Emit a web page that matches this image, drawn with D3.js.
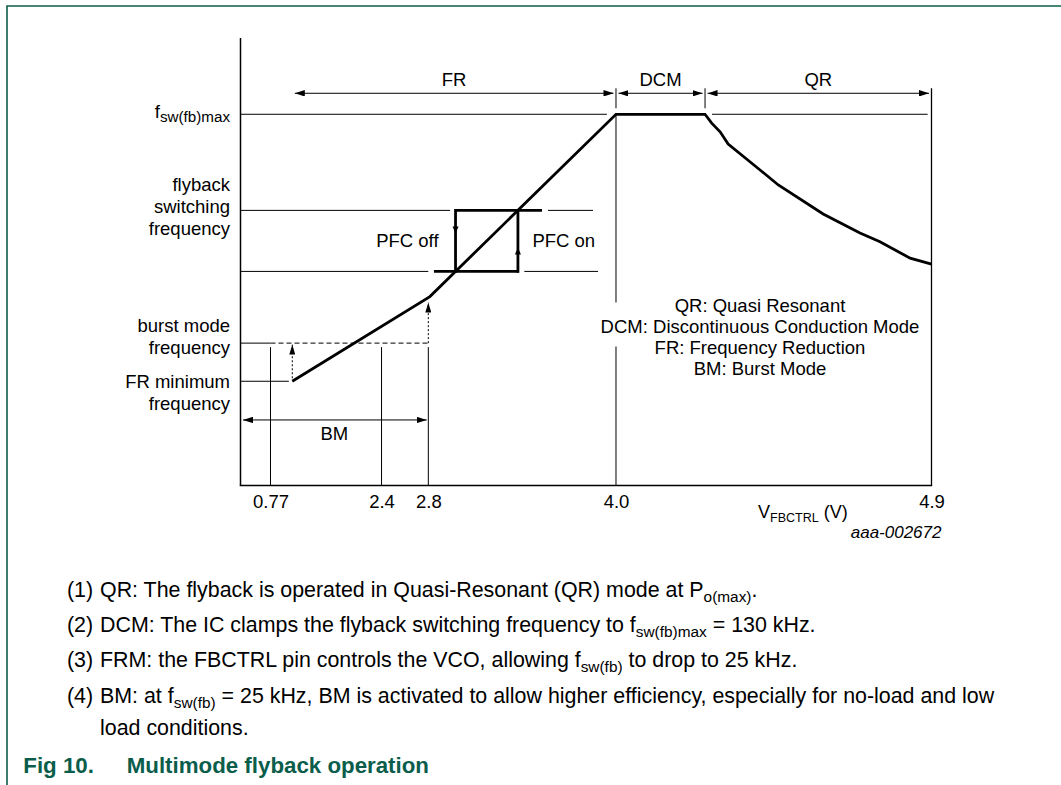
<!DOCTYPE html>
<html>
<head>
<meta charset="utf-8">
<script src="https://cdn.jsdelivr.net/npm/d3@7"></script>
<style>
  html, body { margin: 0; padding: 0; background: #fff; }
  svg { display: block; font-family: "Liberation Sans", Arial, Helvetica, sans-serif; }
</style>
</head>
<body>
<svg id="chart" width="1061" height="785"></svg>
<script>
// ---------- data ----------
// control voltage ticks (V)
const tickValues = [0.77, 2.4, 2.8, 4.0, 4.9];
const tickLabels = ["0.77", "2.4", "2.8", "4.0", "4.9"];

// operating curve: V_FBCTRL (V) against flyback switching frequency (kHz)
const curveV = [1.09, 2.81, 4.0, 4.254, 4.273, 4.297, 4.320, 4.411, 4.463, 4.591, 4.696, 4.753, 4.839, 4.9];
const curveF = [25, 58.3, 130, 130, 126.5, 123.1, 118.3, 108.1, 102.2, 90.8, 83.3, 79.9, 73.4, 71.1];

// characteristic frequency levels (kHz)
const fMax = 130;
const fPfcHigh = 92.2;
const fPfcLow = 68.2;
const fBurst = 40;
const fMin = 25;

// PFC hysteresis window (V)
const pfcOffV = 2.974;
const pfcOnV = 3.373;
const pfcTopEndV = 3.527;
const pfcBottomStartV = 2.836;

// thin reference lines: level, start, end (V)
const guideLevel = [fMax, fMax, fPfcHigh, fPfcHigh, fPfcLow, fPfcLow, fMin, fBurst];
const guideFrom  = [0, 4.274, 0, 3.565, 0, 3.414, 0, 0];
const guideTo    = [3.942, 4.889, 2.939, 3.853, 2.8, 3.885, 1.04, 0.77];

// operating modes along the control voltage
const modeNames = ["FR", "DCM", "QR"];
const modeStart = [1.09, 4.0, 4.254];
const modeEnd   = [4.0, 4.254, 4.9];

// frequency labels on the vertical axis
const yLabelLevel = [fMax, fPfcHigh, fBurst, fMin];
const yLabelLines = [["f|sw(fb)max"], ["flyback", "switching", "frequency"], ["burst mode", "frequency"], ["FR minimum", "frequency"]];

const legendLines = ["QR: Quasi Resonant", "DCM: Discontinuous Conduction Mode", "FR: Frequency Reduction", "BM: Burst Mode"];

const noteNums = ["(1)", "(2)", "(3)", "(4)"];
const noteParts = [
  [["QR: The flyback is operated in Quasi-Resonant (QR) mode at P", 0], ["o(max)", 1], [".", 0]],
  [["DCM: The IC clamps the flyback switching frequency to f", 0], ["sw(fb)max", 1], [" = 130 kHz.", 0]],
  [["FRM: the FBCTRL pin controls the VCO, allowing f", 0], ["sw(fb)", 1], [" to drop to 25 kHz.", 0]],
  [["BM: at f", 0], ["sw(fb)", 1], [" = 25 kHz, BM is activated to allow higher efficiency, especially for no-load and low", 0]]
];
const noteContinuation = "load conditions.";
const figNumber = "Fig 10.";
const figTitle = "Multimode flyback operation";
const figCode = "aaa-002672";

// ---------- layout ----------
const svg = d3.select("#chart");
const green = "#0b5d4b";
const fs = 18.5, subFs = 15.2, subShift = 4.5;
const noteFs = 21.4, noteSubFs = 15.4, noteSubShift = 5;
const plot = { left: 240.5, right: 931.5, top: 38, bottom: 485.5 };
const pw = plot.right - plot.left;

// schematic (non-uniform) voltage axis
const x = d3.scaleLinear()
  .domain([0, 0.77, 2.4, 2.8, 4.0, 4.9])
  .range([0, 0.0434, 0.2041, 0.2718, 0.5434, 1].map(f => plot.left + f * pw));
const y = d3.scaleLinear().domain([-16, 160]).range([plot.bottom, plot.top]);

// page frame
svg.append("path")
  .attr("d", `M7,785V6H1061`)
  .attr("fill", "none").attr("stroke", green).attr("stroke-width", 1.6);

// arrow markers
const defs = svg.append("defs");
function marker(id, len, half) {
  defs.append("marker").attr("id", id)
    .attr("markerUnits", "userSpaceOnUse")
    .attr("markerWidth", len).attr("markerHeight", half * 2)
    .attr("refX", len).attr("refY", half)
    .attr("orient", "auto-start-reverse")
    .append("path").attr("d", `M0,0L${len},${half}L0,${half * 2}Z`).attr("fill", "#000");
}
marker("dimArrow", 10, 3.2);
marker("dotArrow", 10, 3);

const g = svg.append("g");

// thin reference lines
guideLevel.forEach((lv, i) => {
  g.append("line")
    .attr("x1", x(guideFrom[i])).attr("x2", x(guideTo[i]))
    .attr("y1", y(lv)).attr("y2", y(lv))
    .attr("stroke", "#000").attr("stroke-width", 1);
});
// dashed burst-mode threshold
g.append("line")
  .attr("x1", x(0.77)).attr("x2", x(2.8))
  .attr("y1", y(fBurst)).attr("y2", y(fBurst))
  .attr("stroke", "#000").attr("stroke-width", 1).attr("stroke-dasharray", "5,3");

// vertical drop lines at the voltage ticks
[0.77, 2.4, 2.8].forEach(v => {
  g.append("line").attr("x1", x(v)).attr("x2", x(v))
    .attr("y1", y(fBurst) + 4).attr("y2", plot.bottom)
    .attr("stroke", "#000").attr("stroke-width", 1);
});
g.append("line").attr("x1", x(4.0)).attr("x2", x(4.0))
  .attr("y1", y(fMax)).attr("y2", plot.bottom)
  .attr("stroke", "#000").attr("stroke-width", 1);

// mode dimension arrows
const yDim = y(fMax) - 21;
modeNames.forEach((m, i) => {
  const a = x(modeStart[i]) + 2.5, b = x(modeEnd[i]) - 2.5;
  g.append("line").attr("x1", a).attr("x2", b).attr("y1", yDim).attr("y2", yDim)
    .attr("stroke", "#000").attr("stroke-width", 1)
    .attr("marker-start", "url(#dimArrow)").attr("marker-end", "url(#dimArrow)");
  g.append("text").attr("x", (a + b) / 2).attr("y", yDim - 7.5)
    .attr("text-anchor", "middle").attr("font-size", fs).text(m);
});
[4.0, 4.254].forEach(v => {
  g.append("line").attr("x1", x(v)).attr("x2", x(v))
    .attr("y1", yDim - 5).attr("y2", yDim + 15)
    .attr("stroke", "#000").attr("stroke-width", 1);
});
// right boundary at 4.9 V
g.append("line").attr("x1", x(4.9)).attr("x2", x(4.9))
  .attr("y1", yDim - 5).attr("y2", plot.bottom)
  .attr("stroke", "#000").attr("stroke-width", 1.3);

// burst mode span
const yBM = y(fMin) + 38.7;
g.append("line").attr("x1", x(0) + 2.5).attr("x2", x(2.8) - 1.6)
  .attr("y1", yBM).attr("y2", yBM)
  .attr("stroke", "#000").attr("stroke-width", 1)
  .attr("marker-start", "url(#dimArrow)").attr("marker-end", "url(#dimArrow)");
g.append("text").attr("x", (x(0) + x(2.8)) / 2).attr("y", yBM + 20)
  .attr("text-anchor", "middle").attr("font-size", fs).text("BM");

// dotted arrows: step up from minimum to burst level, and from burst level to the curve
g.append("line").attr("x1", x(curveV[0])).attr("x2", x(curveV[0]))
  .attr("y1", y(fMin) - 3).attr("y2", y(fBurst) + 1.5)
  .attr("stroke", "#000").attr("stroke-width", 1).attr("stroke-dasharray", "2,2")
  .attr("marker-end", "url(#dotArrow)");
g.append("line").attr("x1", x(2.8)).attr("x2", x(2.8))
  .attr("y1", y(fBurst)).attr("y2", y(curveF[1]) + 6)
  .attr("stroke", "#000").attr("stroke-width", 1).attr("stroke-dasharray", "2,2")
  .attr("marker-end", "url(#dotArrow)");

// PFC hysteresis box
const thick = 2.8;
const box = g.append("g").attr("stroke", "#000").attr("stroke-width", thick).attr("fill", "none");
box.append("line").attr("x1", x(pfcOffV)).attr("x2", x(pfcTopEndV)).attr("y1", y(fPfcHigh)).attr("y2", y(fPfcHigh));
box.append("line").attr("x1", x(pfcBottomStartV)).attr("x2", x(pfcOnV)).attr("y1", y(fPfcLow)).attr("y2", y(fPfcLow));
box.append("line").attr("x1", x(pfcOffV)).attr("x2", x(pfcOffV)).attr("y1", y(fPfcHigh)).attr("y2", y(fPfcLow)).attr("stroke-linecap", "square");
box.append("line").attr("x1", x(pfcOnV)).attr("x2", x(pfcOnV)).attr("y1", y(fPfcHigh)).attr("y2", y(fPfcLow)).attr("stroke-linecap", "square");
const boxMid = (y(fPfcHigh) + y(fPfcLow)) / 2;
// direction heads
g.append("path").attr("fill", "#000")
  .attr("d", `M${x(pfcOffV) - 3},${boxMid - 14.5}L${x(pfcOffV) + 3},${boxMid - 14.5}L${x(pfcOffV)},${boxMid - 7.5}Z`);
g.append("path").attr("fill", "#000")
  .attr("d", `M${x(pfcOnV) - 3},${boxMid + 13.5}L${x(pfcOnV) + 3},${boxMid + 13.5}L${x(pfcOnV)},${boxMid + 6.5}Z`);
g.append("text").attr("x", x(pfcOffV) - 17).attr("y", boxMid + 6)
  .attr("text-anchor", "end").attr("font-size", fs).text("PFC off");
g.append("text").attr("x", x(pfcOnV) + 14.5).attr("y", boxMid + 6)
  .attr("text-anchor", "start").attr("font-size", fs).text("PFC on");

// operating curve
g.append("path")
  .datum(curveV.map((v, i) => [v, curveF[i]]))
  .attr("d", d3.line().x(d => x(d[0])).y(d => y(d[1])))
  .attr("fill", "none").attr("stroke", "#000").attr("stroke-width", thick)
  .attr("stroke-linejoin", "miter");

// axes
g.append("line").attr("x1", plot.left).attr("x2", plot.left)
  .attr("y1", plot.top).attr("y2", plot.bottom)
  .attr("stroke", "#000").attr("stroke-width", 1.5);
g.append("line").attr("x1", plot.left - 0.75).attr("x2", plot.right + 0.65)
  .attr("y1", plot.bottom).attr("y2", plot.bottom)
  .attr("stroke", "#000").attr("stroke-width", 1.5);

const xAxis = d3.axisBottom(x).tickValues(tickValues)
  .tickFormat((d, i) => tickLabels[i]).tickSize(0).tickPadding(9.5);
const ax = g.append("g").attr("transform", `translate(0,${plot.bottom})`).call(xAxis);
ax.select(".domain").remove();
ax.selectAll("text").attr("font-size", fs).attr("font-family", null).attr("fill", "#000");

// axis title
const at = g.append("text").attr("x", 758).attr("y", plot.bottom + 32.5).attr("font-size", 18);
at.append("tspan").text("V");
at.append("tspan").attr("dy", 4).attr("font-size", 12.5).text("FBCTRL");
at.append("tspan").attr("dy", -4).text(" (V)");

g.append("text").attr("x", 941.5).attr("y", plot.bottom + 52.5)
  .attr("text-anchor", "end").attr("font-size", 17).attr("font-style", "italic").text(figCode);

// vertical-axis labels
const yLabelOffset = [3.5, -19.8, -11.4, 6.4];
yLabelLevel.forEach((lv, i) => {
  const t = g.append("text").attr("text-anchor", "end").attr("font-size", fs);
  yLabelLines[i].forEach((ln, j) => {
    const ts = t.append("tspan").attr("x", plot.left - 10.5).attr("y", y(lv) + yLabelOffset[i] + j * 22.3);
    if (ln.includes("|")) {
      const [main, sub] = ln.split("|");
      ts.text(main);
      t.append("tspan").attr("dy", subShift).attr("font-size", subFs).text(sub);
    } else {
      ts.text(ln);
    }
  });
});

// mode legend
const legX = 760;
const legY0 = 311.5;
legendLines.forEach((ln, i) => {
  const ty = legY0 + i * 21;
  const t = g.append("text").attr("x", legX).attr("y", ty)
    .attr("text-anchor", "middle").attr("font-size", fs).text(ln);
  if (i === 1) {
    const bb = t.node().getBBox();
    g.insert("rect", "text")
      .attr("x", bb.x - 2).attr("y", bb.y - 13).attr("width", bb.width + 4).attr("height", bb.height + 23)
      .attr("fill", "#fff");
  }
});

// footnotes
const noteY0 = 597.3;
const noteDy = [0, 34.4, 69.4, 105.4];
noteParts.forEach((parts, i) => {
  const yy = noteY0 + noteDy[i];
  g.append("text").attr("x", 67).attr("y", yy).attr("font-size", noteFs).text(noteNums[i]);
  const t = g.append("text").attr("x", 100).attr("y", yy).attr("font-size", noteFs);
  let shifted = false;
  parts.forEach(([txt, sub]) => {
    const ts = t.append("tspan").text(txt);
    if (sub) { ts.attr("dy", noteSubShift).attr("font-size", noteSubFs); shifted = true; }
    else if (shifted) { ts.attr("dy", -noteSubShift); shifted = false; }
  });
});
g.append("text").attr("x", 100).attr("y", 735).attr("font-size", noteFs).text(noteContinuation);

// figure caption
g.append("text").attr("x", 23.3).attr("y", 773.3).attr("font-size", 22.3).attr("font-weight", "bold")
  .attr("fill", green).text(figNumber);
g.append("text").attr("x", 126.7).attr("y", 773.3).attr("font-size", 22.3).attr("font-weight", "bold")
  .attr("fill", green).text(figTitle);
</script>
</body>
</html>
